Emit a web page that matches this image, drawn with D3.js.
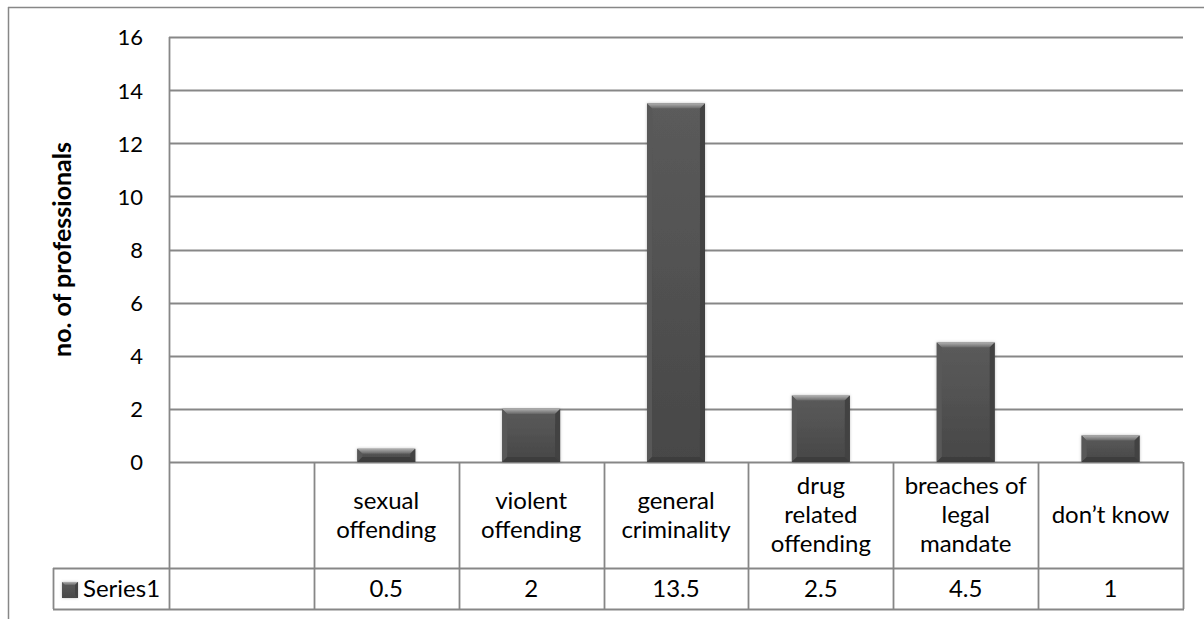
<!DOCTYPE html>
<html>
<head>
<meta charset="utf-8">
<script src="https://cdn.jsdelivr.net/npm/d3@7"></script>
<style>
  html, body { margin: 0; padding: 0; background: #fff; }
  svg { display: block; }
  text { font-family: Lato, "Open Sans", sans-serif; fill: #000; }
</style>
</head>
<body>
<svg id="chart" width="1204" height="619"></svg>
<script>
// Categories (line breaks as they wrap in the table header)
const categories = ["", "sexual\noffending", "violent\noffending", "general\ncriminality",
                    "drug\nrelated\noffending", "breaches of\nlegal\nmandate", "don\u2019t know"];
const series1 = [null, 0.5, 2, 13.5, 2.5, 4.5, 1];
const seriesName = "Series1";
const yTicks = [0, 2, 4, 6, 8, 10, 12, 14, 16];
const yLabel = "no. of professionals";

(function () {
const svg = d3.select("#chart");
const gridColor = "#878787";
const tickSize = 22, textSize = 24, titleSize = 25;

// plot geometry
const plotLeft = 169, plotRight = 1183, plotTop = 37, plotBase = 462;
const headerBottom = 568, tableBottom = 609, legendLeft = 53;

const x = d3.scaleBand().domain(d3.range(categories.length)).range([plotLeft, plotRight]).padding(0);
const y = d3.scaleLinear().domain([0, 16]).range([plotBase, plotTop]);

// defs: bar gradients and soft shadow
const defs = svg.append("defs");
const face = defs.append("linearGradient").attr("id", "face").attr("x1", 0).attr("y1", 0).attr("x2", 0).attr("y2", 1);
face.append("stop").attr("offset", 0).attr("stop-color", "#5b5b5b");
face.append("stop").attr("offset", 1).attr("stop-color", "#474747");
const topBevel = defs.append("linearGradient").attr("id", "topBevel").attr("x1", 0).attr("y1", 0).attr("x2", 0).attr("y2", 1);
topBevel.append("stop").attr("offset", 0).attr("stop-color", "#b0b0b0");
topBevel.append("stop").attr("offset", 1).attr("stop-color", "#676767");
const shadow = defs.append("filter").attr("id", "shadow").attr("x", "-20%").attr("y", "-20%").attr("width", "140%").attr("height", "140%");
shadow.append("feDropShadow").attr("dx", 0).attr("dy", 0).attr("stdDeviation", 1.5)
  .attr("flood-color", "#000").attr("flood-opacity", 0.25);

// outer chart frame
svg.append("line").attr("x1", 8).attr("x2", 1204).attr("y1", 7.5).attr("y2", 7.5)
  .attr("stroke", gridColor).attr("stroke-width", 1.5);
svg.append("line").attr("x1", 8.5).attr("x2", 8.5).attr("y1", 7).attr("y2", 619)
  .attr("stroke", gridColor).attr("stroke-width", 1.5);

// gridlines
svg.append("g").selectAll("line").data(yTicks).join("line")
  .attr("x1", plotLeft).attr("x2", plotRight)
  .attr("y1", d => Math.round(y(d)) + 0.5).attr("y2", d => Math.round(y(d)) + 0.5)
  .attr("stroke", gridColor).attr("stroke-width", 1.8);

// y axis tick labels
const yAxis = d3.axisLeft(y).tickValues(yTicks).tickSize(0).tickPadding(0);
const ya = svg.append("g").attr("transform", "translate(143,0)").call(yAxis);
ya.select(".domain").remove();
ya.selectAll("text").attr("font-size", tickSize).attr("font-family", "Lato, sans-serif")
  .attr("fill", "#000").attr("dy", "0.36em");

// y axis title
svg.append("text")
  .attr("transform", `translate(71,${(plotTop + plotBase) / 2}) rotate(-90)`)
  .attr("text-anchor", "middle").attr("font-size", titleSize).attr("font-weight", "bold")
  .text(yLabel);

// data table lines
const tbl = svg.append("g").attr("stroke", gridColor).attr("stroke-width", 1.8).attr("fill", "none");
tbl.append("line").attr("x1", plotLeft + 0.5).attr("x2", plotLeft + 0.5).attr("y1", plotTop).attr("y2", tableBottom);
tbl.selectAll("line.col").data(d3.range(1, categories.length + 1)).join("line").attr("class", "col")
  .attr("x1", i => Math.round(x(i - 1) + x.bandwidth()) + 0.5)
  .attr("x2", i => Math.round(x(i - 1) + x.bandwidth()) + 0.5)
  .attr("y1", plotBase).attr("y2", tableBottom);
tbl.append("line").attr("x1", legendLeft).attr("x2", plotRight + 1).attr("y1", headerBottom + 0.5).attr("y2", headerBottom + 0.5);
tbl.append("line").attr("x1", legendLeft).attr("x2", plotRight + 1).attr("y1", tableBottom + 0.5).attr("y2", tableBottom + 0.5);
tbl.append("line").attr("x1", legendLeft + 0.5).attr("x2", legendLeft + 0.5).attr("y1", headerBottom).attr("y2", tableBottom);

// bars with bevel
const barW = x.bandwidth() * 0.4;
const bev = 5;
const bars = svg.append("g").selectAll("g").data(series1.map((v, i) => ({ v, i })).filter(d => d.v != null)).join("g")
  .attr("filter", "url(#shadow)");
bars.each(function (d) {
  const g = d3.select(this);
  const x0 = x(d.i) + (x.bandwidth() - barW) / 2, x1 = x0 + barW;
  const y0 = y(d.v), y1 = y(0);
  const b = Math.min(bev, (y1 - y0) / 2);
  g.append("rect").attr("x", x0).attr("y", y0).attr("width", barW).attr("height", y1 - y0).attr("fill", "url(#face)");
  g.append("path").attr("d", `M${x0},${y0}L${x1},${y0}L${x1 - b},${y0 + b}L${x0 + b},${y0 + b}Z`).attr("fill", "url(#topBevel)");
  g.append("path").attr("d", `M${x0},${y0}L${x0 + b},${y0 + b}L${x0 + b},${y1 - b}L${x0},${y1}Z`).attr("fill", "#595959");
  g.append("path").attr("d", `M${x1},${y0}L${x1 - b},${y0 + b}L${x1 - b},${y1 - b}L${x1},${y1}Z`).attr("fill", "#424242");
  g.append("path").attr("d", `M${x0},${y1}L${x0 + b},${y1 - b}L${x1 - b},${y1 - b}L${x1},${y1}Z`).attr("fill", "#3c3c3c");
});

// header row: category names
const lineH = 29;
const headerMid = (plotBase + headerBottom) / 2;
svg.append("g").selectAll("text").data(categories).join("text")
  .attr("text-anchor", "middle").attr("font-size", textSize)
  .each(function (c, i) {
    const lines = c ? c.split("\n") : [];
    const t = d3.select(this);
    const cx = x(i) + x.bandwidth() / 2;
    lines.forEach((ln, k) => {
      t.append("tspan").attr("x", cx)
        .attr("y", headerMid + (k - (lines.length - 1) / 2) * lineH + 8)
        .text(ln);
    });
  });

// value row
const valueMid = (headerBottom + tableBottom) / 2;
svg.append("g").selectAll("text").data(series1).join("text")
  .attr("text-anchor", "middle").attr("font-size", textSize)
  .attr("x", (d, i) => x(i) + x.bandwidth() / 2).attr("y", valueMid + 8)
  .text(d => d == null ? "" : String(d));

// legend key inside the table
const key = svg.append("g").attr("filter", "url(#shadow)");
const kx = 62, ky = 582, ks = 16, kb = 3;
key.append("rect").attr("x", kx).attr("y", ky).attr("width", ks).attr("height", ks).attr("fill", "url(#face)");
key.append("path").attr("d", `M${kx},${ky}L${kx + ks},${ky}L${kx + ks - kb},${ky + kb}L${kx + kb},${ky + kb}Z`).attr("fill", "url(#topBevel)");
key.append("path").attr("d", `M${kx + ks},${ky}L${kx + ks - kb},${ky + kb}L${kx + ks - kb},${ky + ks - kb}L${kx + ks},${ky + ks}Z`).attr("fill", "#424242");
svg.append("text").attr("x", 83).attr("y", valueMid + 8).attr("font-size", textSize).text(seriesName);
})();
</script>
</body>
</html>
